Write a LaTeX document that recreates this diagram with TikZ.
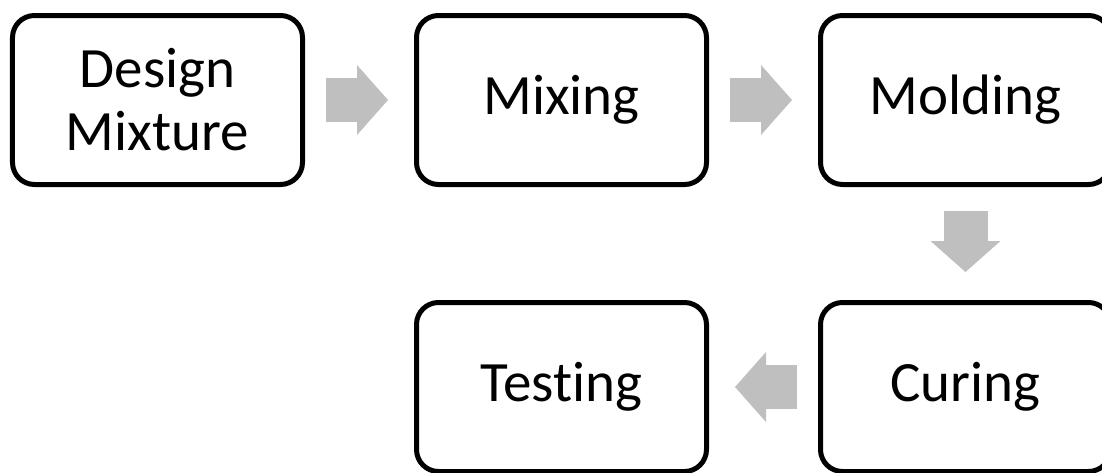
\documentclass[tikz,border=0pt]{standalone}
\usepackage{fontspec}
\setmainfont{Carlito}[Ligatures=NoCommon]
\usepackage{tikz}
\usetikzlibrary{arrows.meta, positioning}
\definecolor{arrowgray}{RGB}{191,191,191}
\tikzset{
  stage/.style={rectangle, rounded corners=11pt, draw=black, line width=2.5pt, minimum width=145pt, minimum height=84.5pt, align=center, font=\fontsize{28.5pt}{31.5pt}\selectfont},
  flow/.style={-{Triangle[length=15.5pt, width=35pt, line width=0pt]}, draw=arrowgray, line width=22pt, shorten <=10.5pt, shorten >=13pt},
}

\begin{document}
\begin{tikzpicture}[node distance=56.5pt and 54.5pt]
\useasboundingbox (-78.75pt,50pt) rectangle (472.25pt,-186pt);
\node[stage] (design) {Design\\Mixture};
\node[stage, right=of design] (mixing) {Mixing};
\node[stage, right=of mixing] (molding) {Molding};
\node[stage, below=of molding] (curing) {Curing};
\node[stage, left=of curing] (testing) {Testing};

\draw[flow] (design) -- (mixing);
\draw[flow] (mixing) -- (molding);
\draw[flow, shorten <=12pt, shorten >=14pt] (molding) -- (curing);
\draw[flow] (curing) -- (testing);
\end{tikzpicture}
\end{document}
